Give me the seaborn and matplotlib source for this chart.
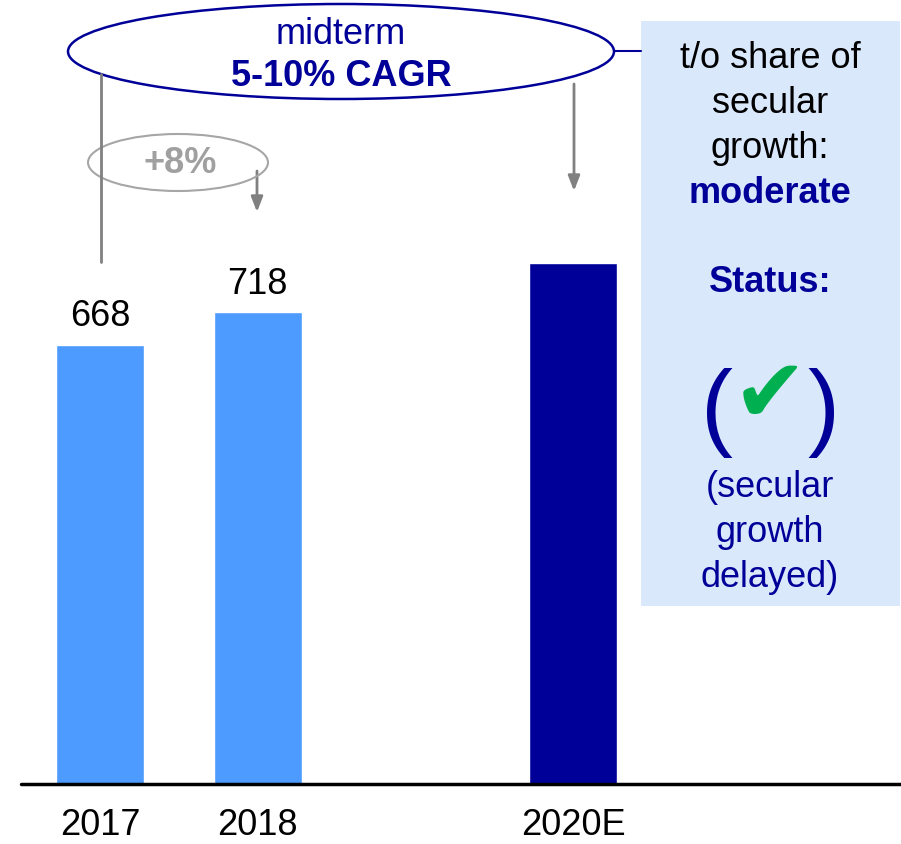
import pandas as pd
import matplotlib.pyplot as plt
import seaborn as sns
from matplotlib.patches import Ellipse, Rectangle

# data
years = ["2017", "2018", "2019", "2020E"]
revenue = [668, 718, None, 793]
labels = ["668", "718", "", ""]
bar_colors = {"2017": "#4D9BFF", "2018": "#4D9BFF", "2019": "#FFFFFF", "2020E": "#000099"}

growth_text = "+8%"
target_lines = ["midterm", "5-10% CAGR"]
side_lines = ["t/o share of", "secular", "growth:"]
side_bold = ["moderate", "Status:"]
side_note = ["(secular", "growth", "delayed)"]

NAVY = "#000099"
GRAY = "#808080"

df = pd.DataFrame({"year": years, "value": revenue}).dropna()

sns.set_style("white")
plt.rcParams['font.family'] = ['Liberation Sans', 'DejaVu Sans']

W, H = 901, 845
fig = plt.figure(figsize=(W / 100, H / 100), dpi=100)
base_px = 784.5
ax = fig.add_axes([0, (H - base_px) / H, 1, base_px / H])

sns.barplot(data=df, x="year", y="value", hue="year", order=years,
            palette=bar_colors, width=0.56, legend=False, ax=ax, saturation=1)

ax.set_xlim(-0.634, 5.079)
ax.set_ylim(0, 1194.8)
for s in ax.spines.values():
    s.set_visible(False)
ax.set_yticks([])
ax.set_xlabel("")
ax.set_ylabel("")
ax.axhline(0, xmin=21 / W, xmax=1, color="black", lw=2.5, zorder=5, clip_on=False)

ticks = [i for i, v in enumerate(revenue) if v is not None]
ax.set_xticks(ticks)
ax.set_xticklabels([years[i] for i in ticks], fontsize=26, color="black")
ax.tick_params(axis="x", length=0, pad=17, labelcolor="black")

for i, (v, lab) in enumerate(zip(revenue, labels)):
    if lab:
        ax.annotate(lab, (i, v), xytext=(0, 14), textcoords="offset points",
                    ha="center", va="baseline", fontsize=26, color="black")


def fx(px):
    return px / W


def fy(py):
    return 1 - py / H


tf = fig.transFigure

# side box
fig.patches.append(Rectangle((fx(641), fy(607)), fx(900) - fx(641), fy(22) - fy(607),
                             transform=tf, facecolor="#DAE8FC", edgecolor="none", zorder=0))

# big ellipse with target
fig.patches.append(Ellipse((fx(341), fy(52.5)), 546 / W, 95 / H, transform=tf,
                           facecolor="none", edgecolor=NAVY, lw=1.8))
fig.text(fx(341), fy(44), target_lines[0], ha="center", va="baseline", fontsize=26, color=NAVY)
fig.text(fx(341), fy(86), target_lines[1], ha="center", va="baseline", fontsize=26,
         color=NAVY, fontweight="bold")
fig.add_artist(plt.Line2D([fx(614), fx(641)], [fy(52), fy(52)], transform=tf, color=NAVY, lw=1.5))

# small ellipse with growth
fig.patches.append(Ellipse((fx(178), fy(163.5)), 180 / W, 57 / H, transform=tf,
                           facecolor="none", edgecolor="#A6A6A6", lw=1.5))
fig.text(fx(180), fy(173), growth_text, ha="center", va="baseline", fontsize=26,
         color="#A0A0A0", fontweight="bold")

# connector lines and arrows
fig.add_artist(plt.Line2D([fx(101), fx(101)], [fy(75), fy(263)], transform=tf, color=GRAY, lw=2))
for x0, y0, y1 in [(257, 172, 213), (574, 85, 192)]:
    ax.annotate("", xy=(fx(x0), fy(y1)), xytext=(fx(x0), fy(y0)), xycoords=tf, textcoords=tf,
                arrowprops=dict(arrowstyle="-|>,head_width=0.35,head_length=0.9",
                                color=GRAY, lw=2, shrinkA=0, shrinkB=0))

# side box text
cx = fx(770)
for i, t in enumerate(side_lines):
    fig.text(cx, fy(68 + 45 * i), t, ha="center", va="baseline", fontsize=26, color="black")
fig.text(cx, fy(203), side_bold[0], ha="center", va="baseline", fontsize=26, color=NAVY,
         fontweight="bold")
fig.text(cx, fy(292), side_bold[1], ha="center", va="baseline", fontsize=26, color=NAVY,
         fontweight="bold")
fig.text(fx(717), fy(413), "(", ha="center", va="center", fontsize=69, color=NAVY)
fig.text(fx(823), fy(413), ")", ha="center", va="center", fontsize=69, color=NAVY)
fig.text(fx(770), fy(398), "\u2714", ha="center", va="center", fontsize=64, color="#00B050",
         family="DejaVu Sans")
for i, t in enumerate(side_note):
    fig.text(cx, fy(497 + 45 * i), t, ha="center", va="baseline", fontsize=26, color=NAVY)

fig.savefig("out.png", dpi=100)
